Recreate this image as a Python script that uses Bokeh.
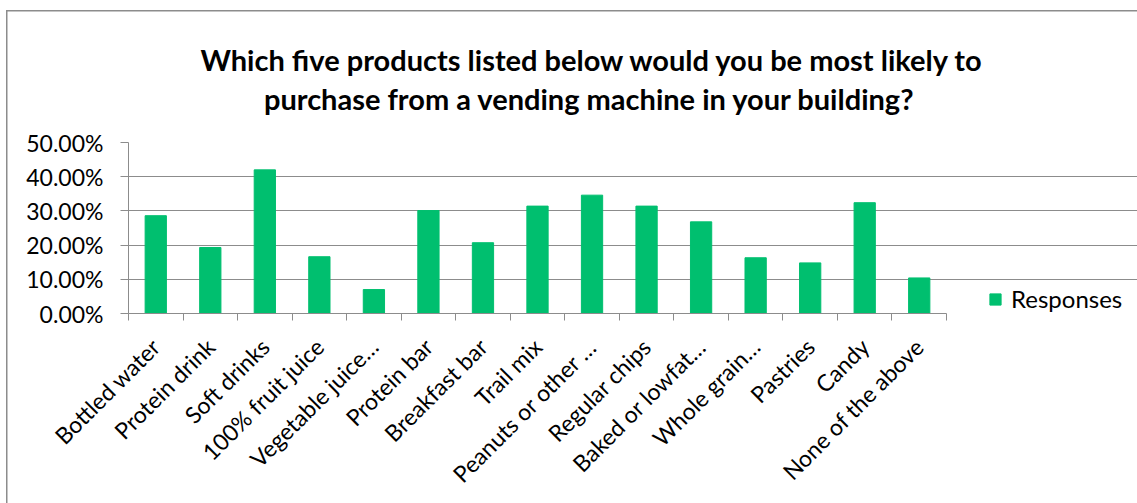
import math
from bokeh.plotting import figure
from bokeh.models import (Range1d, FixedTicker, NumeralTickFormatter,
                          Legend, LegendItem, Title, ColumnDataSource)
from bokeh.embed import file_html
from bokeh.resources import INLINE

categories = ["Bottled water", "Protein drink", "Soft drinks", "100% fruit juice",
              "Vegetable juice\u2026", "Protein bar", "Breakfast bar", "Trail mix",
              "Peanuts or other \u2026", "Regular chips", "Baked or lowfat\u2026",
              "Whole grain\u2026", "Pastries", "Candy", "None of the above"]
responses = [0.286, 0.193, 0.420, 0.166, 0.070, 0.301, 0.207, 0.314,
             0.346, 0.314, 0.268, 0.163, 0.148, 0.324, 0.104]
y_ticks = [0.0, 0.1, 0.2, 0.3, 0.4, 0.5]
series_name = "Responses"
title_line1 = "Which five products listed below would you be most likely to"
title_line2 = "purchase from a vending machine in your building?"

GREEN = "#00BF6F"
GRAY = "#8C8C8C"
FONT = "Lato"

W, H = 1137, 503
LEFT, TOP, BOTTOM = 128, 142, 190
PLOT_W = 818                      # width of the bar area in px
n = len(categories)
centers = [i + 0.5 for i in range(n)]
src = ColumnDataSource(dict(x=centers, cat=categories, val=responses))

# frame extends to the right edge so the legend can sit beside the bars
x_end = n * (W - LEFT) / PLOT_W
p = figure(x_range=Range1d(0, x_end), y_range=Range1d(0, 0.5),
           width=W, height=H, output_backend="svg", toolbar_location=None,
           x_axis_location="below", y_axis_location="left",
           min_border_left=LEFT, min_border_right=0, min_border_top=TOP, min_border_bottom=BOTTOM)
p.outline_line_color = None
p.background_fill_color = "white"
p.border_fill_alpha = 0
p.styles = {"box-shadow": "inset 6px 10px 0 0 #ffffff, inset 7.5px 11.5px 0 0 #8c8c8c"}

r = p.vbar(x="x", top="val", width=0.39, source=src, fill_color=GREEN, line_color=GREEN)

# y axis
yt = FixedTicker(ticks=y_ticks)
ya = p.yaxis[0]
ya.ticker = yt
ya.formatter = NumeralTickFormatter(format="0.00%")
ya.axis_line_color = GRAY
ya.major_tick_line_color = GRAY
ya.major_tick_out = 8
ya.major_tick_in = 0
ya.minor_tick_line_color = None
ya.major_label_standoff = 17
ya.major_label_text_font = FONT
ya.major_label_text_font_size = "23px"
ya.major_label_text_color = "#000000"

p.ygrid.ticker = yt
p.ygrid.grid_line_color = GRAY
p.ygrid.bounds = (0, n)
p.xgrid.visible = False

# x axis: labels at category centres, ticks at category boundaries
xa = p.xaxis[0]
xa.bounds = (0, n)
xa.ticker = FixedTicker(ticks=centers, minor_ticks=list(range(n + 1)))
xa.major_label_overrides = {c: lab for c, lab in zip(centers, categories)}
xa.major_label_orientation = math.pi / 4
xa.major_tick_out = 0
xa.major_tick_in = 0
xa.minor_tick_out = 7
xa.minor_tick_in = 0
xa.axis_line_color = GRAY
xa.minor_tick_line_color = GRAY
xa.major_tick_line_color = None
xa.major_label_standoff = 22
xa.major_label_text_font = FONT
xa.major_label_text_font_size = "23px"
xa.major_label_text_color = "#000000"

# title: two lines, second line indented with no-break spaces so both look centred
indent = "\u00a0" * 9
p.title = Title(text=title_line1 + "\n" + indent + title_line2, align="left", offset=72,
                standoff=53, text_font=FONT, text_font_style="bold", text_font_size="29px",
                text_color="#000000", text_line_height=1.12)

# legend
legend = Legend(items=[LegendItem(label=series_name, renderers=[r])],
                location=(860, 0), orientation="vertical",
                glyph_width=14, glyph_height=14, label_standoff=9,
                padding=0, margin=0, border_line_color=None, background_fill_alpha=0,
                label_text_font=FONT, label_text_font_size="24px", label_text_color="#000000")
p.add_layout(legend, "center")

open("out.html", "w").write(file_html(p, INLINE))
